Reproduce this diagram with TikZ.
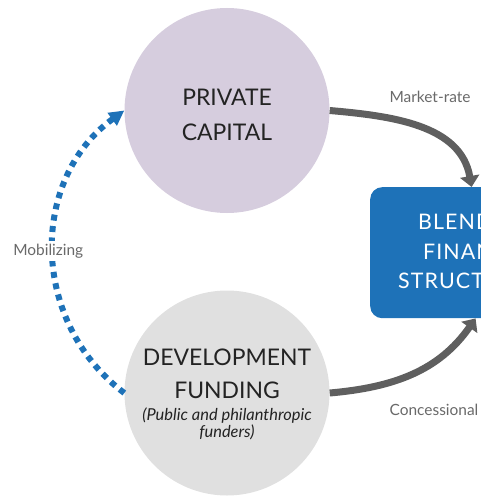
\documentclass[tikz,border=0pt]{standalone}
\usepackage{fontspec}
\setmainfont{Lato}
\usetikzlibrary{arrows.meta}
\definecolor{privfill}{RGB}{214,205,222}
\definecolor{devfill}{RGB}{224,224,224}
\definecolor{bfblue}{RGB}{30,114,184}
\definecolor{flowgrey}{RGB}{95,95,95}
\definecolor{labelgrey}{RGB}{105,105,105}
\definecolor{inktext}{RGB}{35,35,35}
\tikzset{bubble/.style={circle,minimum size=205bp,inner sep=0pt}}
\tikzset{captext/.style={align=center,inner sep=0pt,text=inktext,font=\fontsize{23}{35}\selectfont}}
\tikzset{flow/.style={line width=7bp,flowgrey,-{Triangle[length=11bp,width=19bp]}}}
\tikzset{mobil/.style={line width=6bp,bfblue,dash pattern=on 6bp off 5.5bp,-{Triangle[length=15bp,width=15bp]}}}
\tikzset{flowlabel/.style={text=labelgrey,font=\fontsize{15.5}{17}\selectfont}}
\tikzset{boxtext/.style={anchor=base west,text=white,inner sep=0pt,font=\fontsize{21.5}{25}\selectfont\addfontfeature{LetterSpace=5}}}

\begin{document}
\begin{tikzpicture}[x=1bp,y=1bp]
	\useasboundingbox (0,0) rectangle (481,-496);
	\clip (0,0) rectangle (481,-496);
	\node[bubble,fill=privfill] (priv) at (227,-110.5) {};
	\node[bubble,fill=devfill] (dev) at (227,-393) {};
	\node[rectangle,rounded corners=12bp,fill=bfblue,minimum width=200bp,minimum height=131bp,anchor=north west] (blend) at (370,-187) {};
	\node[captext] (privname) at (227,-114.5) {PRIVATE\\CAPITAL};
	\node[captext,font=\fontsize{23}{33}\selectfont] (devname) at (227,-373.5) {DEVELOPMENT\\FUNDING};
	\node[captext,font=\itshape\fontsize{16.5}{17}\selectfont] (devnote) at (227,-424) {(Public and philanthropic\\funders)};
	\node[boxtext] (blendA) at (418,-229.5) {BLEND};
	\node[boxtext] (blendB) at (423,-259.5) {FINAN};
	\node[boxtext] (blendC) at (398,-288) {STRUCT};
	% flows into the structure
	\draw[flow] (priv.east) to[out=-5,in=100] ([xshift=102]blend.north west);
	\draw[flow] (dev.east) to[out=5,in=235] ([xshift=106]blend.south west);
	\node[flowlabel] (mrate) at (430,-97) {Market-rate};
	\node[flowlabel] (conc) at (434,-410) {Concessional};
	% mobilizing loop
	\draw[mobil] (dev.west) to[out=143,in=216,looseness=1.07] node[flowlabel,fill=white,inner sep=3bp,xshift=-5bp] (mobiliz) {Mobilizing} (priv.west);
\end{tikzpicture}
\end{document}
